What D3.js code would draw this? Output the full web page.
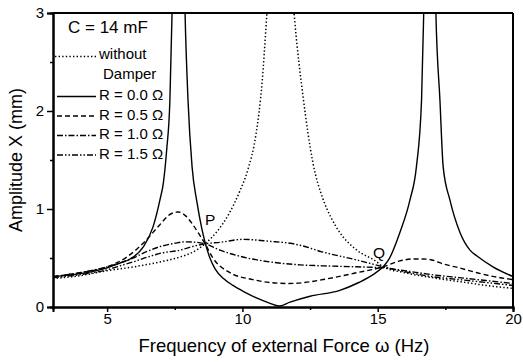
<!DOCTYPE html>
<html>
<head>
<meta charset="utf-8">
<script src="https://cdn.jsdelivr.net/npm/d3@7"></script>
<style>
  body { margin: 0; background: #fff; }
  svg { display: block; font-family: "Liberation Sans", Arial, Helvetica, sans-serif; }
</style>
</head>
<body>
<div id="chart"></div>
<script>
// curves: [frequency (Hz), amplitude (mm)]
// values above 3 are only there so the peaks run off the top of the box
const noDamper = [[3,0.29],[4,0.32],[5,0.37],[6,0.41],[6.95,0.46],[7.69,0.51],[8.17,0.56],[8.62,0.645],
  [9.06,0.77],[9.5,0.95],[9.9,1.18],[10.2,1.40],[10.5,1.76],[10.73,2.3],[10.87,2.85],[10.95,3.2],
  [11.38,7],[11.85,3.2],[11.94,2.9],[12.24,2.15],[12.6,1.48],[12.98,1.10],[13.3,0.90],[13.6,0.76],
  [14.23,0.58],[14.97,0.46],[15.2,0.41],[16,0.35],[17,0.30],[18,0.26],[19,0.22],[20,0.19]];

const r00 = [[3,0.31],[4,0.34],[5,0.40],[5.5,0.45],[5.85,0.49],[6.33,0.61],[6.7,0.82],[6.95,1.09],
  [7.08,1.27],[7.2,1.6],[7.32,2.11],[7.40,3.0],[7.5,4.5],[7.64,9],[7.78,4.5],[7.88,3.0],[7.99,2.11],
  [8.14,1.43],[8.32,1.07],[8.5,0.80],[8.62,0.66],[8.8,0.50],[8.99,0.39],[9.3,0.29],[9.65,0.22],
  [10.1,0.15],[10.54,0.09],[11.0,0.04],[11.35,0.01],[11.76,0.05],[12.5,0.11],[13.6,0.17],[14.3,0.25],
  [14.83,0.33],[15.2,0.41],[15.4,0.48],[15.82,0.76],[16.19,1.09],[16.43,1.43],[16.62,2.11],
  [16.7,3.0],[16.8,4.5],[16.92,9],[17.05,4.5],[17.15,3.0],[17.3,2.11],[17.42,1.43],[17.67,1.09],
  [18.04,0.76],[18.41,0.58],[18.67,0.52],[19.26,0.41],[20,0.31]];

const r05 = [[3,0.31],[4,0.35],[5,0.41],[5.73,0.51],[6.33,0.65],[6.95,0.84],[7.3,0.94],[7.62,0.97],
  [7.9,0.93],[8.17,0.84],[8.43,0.73],[8.62,0.645],[8.91,0.50],[9.54,0.35],[10.39,0.28],[11.0,0.25],
  [11.7,0.24],[12.3,0.25],[12.98,0.28],[14.23,0.35],[15.2,0.41],[15.82,0.47],[16.3,0.49],[16.65,0.49],
  [17.0,0.48],[17.41,0.44],[18.0,0.40],[18.67,0.35],[19.3,0.31],[20,0.28]];

const r10 = [[3,0.31],[4,0.35],[5,0.41],[5.36,0.44],[5.96,0.50],[6.5,0.57],[7.0,0.62],[7.5,0.65],
  [7.9,0.665],[8.3,0.66],[8.62,0.645],[9.17,0.58],[10.02,0.51],[11.02,0.46],[12.13,0.43],[12.98,0.42],
  [14.23,0.41],[15.2,0.40],[16,0.37],[17,0.33],[18,0.30],[19,0.27],[20,0.24]];

const r15 = [[3,0.30],[4,0.33],[5,0.38],[5.36,0.41],[5.96,0.46],[6.5,0.51],[7.0,0.55],[7.69,0.58],
  [8.2,0.62],[8.62,0.645],[9.17,0.66],[10.02,0.69],[11.02,0.67],[11.76,0.65],[12.13,0.63],[12.98,0.56],
  [14.23,0.48],[15.2,0.41],[16,0.36],[17,0.31],[18,0.28],[19,0.25],[20,0.22]];

const xTicks = [5, 10, 15, 20];
const xMinor = [7.5, 12.5, 17.5];
const yTicks = [0, 1, 2, 3];
const yMinor = [0.5, 1.5, 2.5];

const legendTitle = "C = 14 mF";
const legendLabels = ["without", "R = 0.0 \u03A9", "R = 0.5 \u03A9", "R = 1.0 \u03A9", "R = 1.5 \u03A9"];
const fixedPoints = [["P", 8.62, 0.64], ["Q", 15.2, 0.41]];

const W = 523, H = 362;
const margin = { top: 13, right: 10, bottom: 55, left: 53 };
const iw = W - margin.left - margin.right;
const ih = H - margin.top - margin.bottom;

const svg = d3.select("#chart").append("svg").attr("width", W).attr("height", H);
const g = svg.append("g").attr("transform", `translate(${margin.left},${margin.top})`);

const x = d3.scaleLinear().domain([3, 20]).range([0, iw]);
const y = d3.scaleLinear().domain([0, 3]).range([ih, 0]);

g.append("clipPath").attr("id", "clip")
  .append("rect").attr("width", iw).attr("height", ih);

// line styles, same order as the legend
const series = [
  { data: noDamper, dash: "1.4,2.2" },
  { data: r00, dash: null },
  { data: r05, dash: "5,3" },
  { data: r10, dash: "6,2,1.5,2" },
  { data: r15, dash: "6,2,1.5,2,1.5,2" }
];

const line = d3.line()
  .x(d => x(d[0]))
  .y(d => y(d[1]))
  .curve(d3.curveMonotoneX);

const plot = g.append("g").attr("clip-path", "url(#clip)");
plot.selectAll("path.curve")
  .data(series)
  .enter()
  .append("path")
  .attr("class", "curve")
  .attr("d", s => line(s.data))
  .attr("fill", "none")
  .attr("stroke", "#000")
  .attr("stroke-width", s => s.dash === "1.4,2.2" ? 1.5 : 1.4)
  .attr("stroke-dasharray", s => s.dash);

// axes
g.append("g").attr("transform", `translate(0,${ih})`)
  .call(d3.axisBottom(x).tickValues(xTicks).tickSize(5).tickPadding(1).tickFormat(d3.format("d")));
g.append("g").attr("transform", `translate(0,${ih})`)
  .call(d3.axisBottom(x).tickValues(xMinor).tickSize(3).tickFormat(""));
g.append("g")
  .call(d3.axisLeft(y).tickValues(yTicks).tickSize(6).tickPadding(3).tickFormat(d3.format("d")));
g.append("g")
  .call(d3.axisLeft(y).tickValues(yMinor).tickSize(3).tickFormat(""));

g.selectAll(".domain").attr("stroke-width", 2);
g.selectAll(".tick line").attr("stroke-width", 1.5);
g.selectAll(".tick text").attr("font-size", 15).attr("fill", "#000")
  .attr("font-family", "Liberation Sans, Arial, sans-serif");

// box top and right
g.append("line").attr("x1", 0).attr("x2", iw).attr("y1", 0).attr("y2", 0)
  .attr("stroke", "#000").attr("stroke-width", 2);
g.append("line").attr("x1", iw).attr("x2", iw).attr("y1", 0).attr("y2", ih)
  .attr("stroke", "#000").attr("stroke-width", 2);

// axis titles
svg.append("text")
  .attr("x", margin.left + iw / 2 + 1).attr("y", 352)
  .attr("text-anchor", "middle").attr("font-size", 18.5)
  .text("Frequency of external Force \u03C9  (Hz)");
svg.append("text")
  .attr("transform", `translate(22,${margin.top + ih / 2}) rotate(-90)`)
  .attr("text-anchor", "middle").attr("font-size", 18)
  .text("Amplitude X (mm)");

// legend
svg.append("text").attr("x", 68).attr("y", 33).attr("font-size", 17).text(legendTitle);

const rowY = [59, 100, 119.5, 139, 158.5];
const lg = svg.append("g");
legendLabels.forEach((lab, i) => {
  const ly = i === 0 ? 56.5 : rowY[i] - 3.5;
  lg.append("line")
    .attr("x1", i === 0 ? 55 : 57).attr("x2", 96)
    .attr("y1", ly).attr("y2", ly)
    .attr("stroke", "#000")
    .attr("stroke-width", i === 0 ? 1.5 : 1.4)
    .attr("stroke-dasharray", series[i].dash);
  lg.append("text").attr("x", 99).attr("y", rowY[i]).attr("font-size", 15).text(lab);
});
lg.append("text").attr("x", 103).attr("y", 79).attr("font-size", 15).text("Damper");

// fixed points P and Q
fixedPoints.forEach(p => {
  svg.append("text")
    .attr("x", margin.left + x(p[1]) + (p[0] === "P" ? 0 : -10))
    .attr("y", margin.top + y(p[2]) + (p[0] === "P" ? -19 : -9))
    .attr("font-size", 15.5)
    .text(p[0]);
});
</script>
</body>
</html>
